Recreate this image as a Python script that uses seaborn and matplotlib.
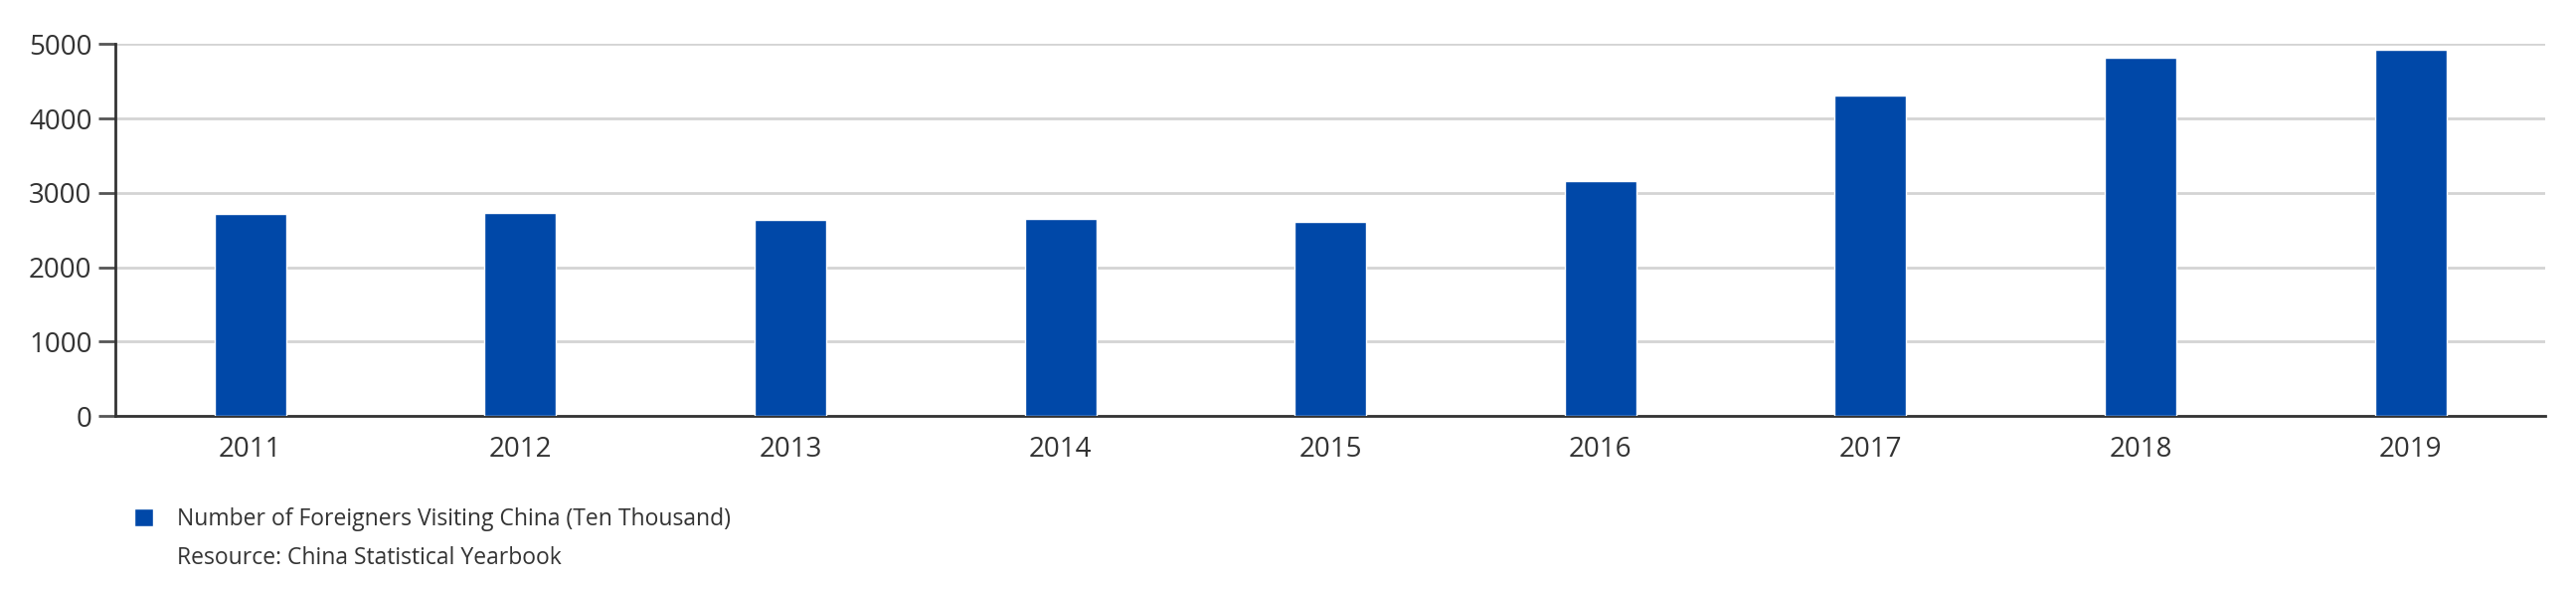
import matplotlib
matplotlib.use("Agg")
import matplotlib.pyplot as plt
import seaborn as sns
import pandas as pd

# data
years = ["2011", "2012", "2013", "2014", "2015", "2016", "2017", "2018", "2019"]
visitors = [2718, 2736, 2642, 2647, 2615, 3157, 4314, 4815, 4931]
y_ticks = [0, 1000, 2000, 3000, 4000, 5000]
series_label = "Number of Foreigners Visiting China (Ten Thousand)"
source_note = "Resource: China Statistical Yearbook"

df = pd.DataFrame({"year": years, "visitors": visitors})

sns.set_style("white")
plt.rcParams["font.family"] = ["Open Sans", "DejaVu Sans"]

bar_color = "#0048a8"
text_color = "#333333"

fig = plt.figure(figsize=(25.91, 5.93), dpi=100)
ax = fig.add_axes([0.0448, 0.295, 0.9434, 0.630])

sns.barplot(data=df, x="year", y="visitors", color=bar_color, saturation=1,
            width=0.265, ax=ax, zorder=3)

ax.set_xlim(-0.5, len(years) - 0.5)
ax.set_ylim(0, 5000)
ax.set_yticks(y_ticks)
ax.set_xlabel("")
ax.set_ylabel("")

# gridlines
ax.yaxis.grid(True, color="#d4d4d4", linewidth=2, zorder=0)
ax.set_axisbelow(True)

for side in ["top", "right"]:
    ax.spines[side].set_visible(False)
for side in ["left", "bottom"]:
    ax.spines[side].set_color("#333333")
    ax.spines[side].set_linewidth(2)

# category labels centered, tick marks between categories
ax.set_xticks(range(len(years)))
ax.set_xticklabels(years)
ax.tick_params(axis="x", which="major", length=0, pad=14, labelsize=20, labelcolor=text_color)
ax.set_xticks([i + 0.5 for i in range(len(years) - 1)], minor=True)
ax.tick_params(axis="x", which="minor", length=9, width=2, color="#333333", direction="out")
ax.tick_params(axis="y", length=12, width=2, color="#555555", pad=5, labelsize=20,
               labelcolor=text_color, left=True)

# legend and source note
ax.legend(handles=[ax.patches[0]], labels=[series_label], loc="center left",
          bbox_to_anchor=(0.044, 0.12), bbox_transform=fig.transFigure,
          frameon=False, handlelength=0.85, handleheight=0.85, handletextpad=1.05,
          prop={"size": 16.5}, labelcolor=text_color)
fig.text(0.0687, 0.054, source_note, fontsize=16.5, color=text_color, va="center")

fig.savefig("out.png", dpi=100)
